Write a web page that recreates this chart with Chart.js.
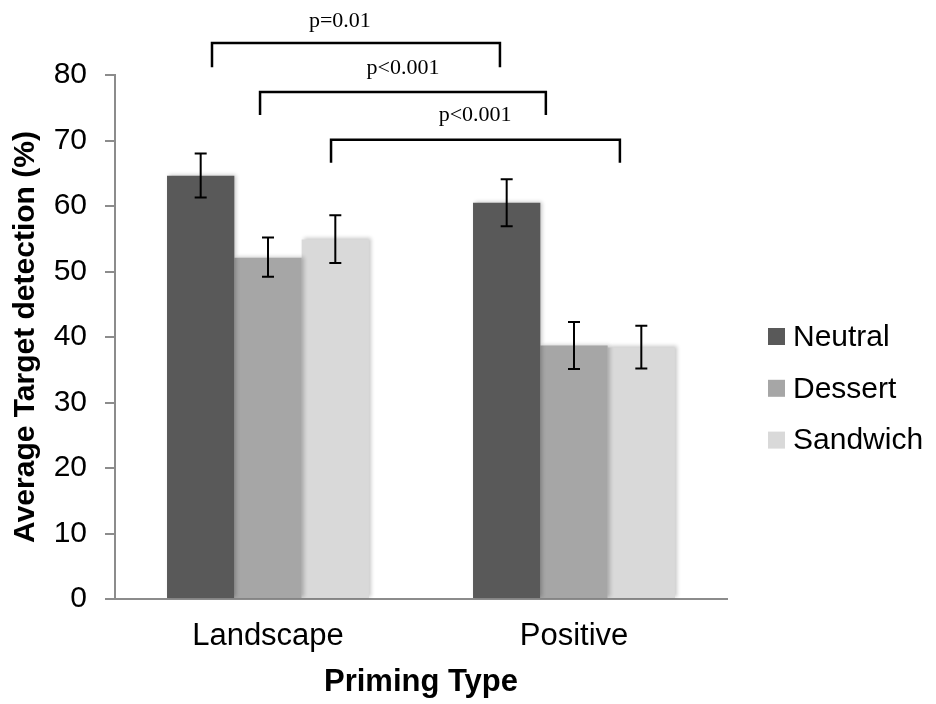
<!DOCTYPE html>
<html><head><meta charset="utf-8">
<script src="https://cdn.jsdelivr.net/npm/chart.js@4"></script>
<style>html,body{margin:0;padding:0;background:#fff}#wrap{width:936px;height:704px;position:relative}</style>
</head><body><div id="wrap"><canvas id="c"></canvas></div>
<script>
const categories = ['Landscape', 'Positive'];
const seriesNames = ['Neutral', 'Dessert', 'Sandwich'];
const neutral = [64.6, 60.5];
const dessert = [52.1, 38.7];
const sandwich = [54.9, 38.4];
const neutralErrHigh = [68.0, 64.1];
const neutralErrLow = [61.3, 56.9];
const dessertErrHigh = [55.2, 42.3];
const dessertErrLow = [49.2, 35.1];
const sandwichErrHigh = [58.6, 41.7];
const sandwichErrLow = [51.3, 35.2];
const yTicks = [0, 10, 20, 30, 40, 50, 60, 70, 80];

const bracketLabels = ['p=0.01', 'p<0.001', 'p<0.001'];
const bracketFrom = [-0.183, -0.026, 0.206];
const bracketTo = [0.758, 0.908, 1.150];
const bracketTop = [84.9, 77.4, 70.1];
const bracketFoot = [81.2, 73.9, 66.6];
const bracketLabelX = [0.235, 0.441, 0.677];
const bracketLabelY = [88.2, 81.0, 73.9];

const colors = ['#595959', '#a6a6a6', '#d9d9d9'];
const seriesValues = [neutral, dessert, sandwich];
const errHigh = [neutralErrHigh, dessertErrHigh, sandwichErrHigh];
const errLow = [neutralErrLow, dessertErrLow, sandwichErrLow];

const SANS = '"Liberation Sans", Arial, sans-serif';

const shadowPlugin = {
  id: 'shadowAndErr',
  beforeDatasetsDraw(chart) {
    const ctx = chart.ctx;
    ctx.save();
    ctx.shadowColor = 'rgba(0,0,0,0.22)';
    ctx.shadowBlur = 4;
    ctx.shadowOffsetX = 2;
    ctx.shadowOffsetY = -1;
  },
  afterDatasetsDraw(chart) {
    const ctx = chart.ctx;
    ctx.restore();
    const y = chart.scales.y;
    const x = chart.scales.x;
    ctx.save();
    ctx.strokeStyle = '#000';
    ctx.lineWidth = 2;
    chart.data.datasets.forEach((ds, di) => {
      const meta = chart.getDatasetMeta(di);
      meta.data.forEach((el, i) => {
        const px = el.x;
        const yh = y.getPixelForValue(errHigh[di][i]);
        const yl = y.getPixelForValue(errLow[di][i]);
        ctx.beginPath();
        ctx.moveTo(px, yh); ctx.lineTo(px, yl);
        ctx.moveTo(px - 6, yh); ctx.lineTo(px + 6, yh);
        ctx.moveTo(px - 6, yl); ctx.lineTo(px + 6, yl);
        ctx.stroke();
      });
    });
    // significance brackets
    ctx.lineWidth = 2.5;
    ctx.lineJoin = 'miter';
    ctx.fillStyle = '#000';
    ctx.font = '22px "Liberation Serif", "Times New Roman", serif';
    ctx.textAlign = 'center';
    ctx.textBaseline = 'middle';
    bracketLabels.forEach((lab, k) => {
      const x1 = x.getPixelForValue(bracketFrom[k]);
      const x2 = x.getPixelForValue(bracketTo[k]);
      const yt = y.getPixelForValue(bracketTop[k]);
      const yf = y.getPixelForValue(bracketFoot[k]);
      ctx.beginPath();
      ctx.moveTo(x1, yf); ctx.lineTo(x1, yt); ctx.lineTo(x2, yt); ctx.lineTo(x2, yf);
      ctx.stroke();
      ctx.fillText(lab, x.getPixelForValue(bracketLabelX[k]), y.getPixelForValue(bracketLabelY[k]));
    });
    ctx.restore();
  },
  afterDraw(chart) {
    const ctx = chart.ctx;
    ctx.save();
    ctx.font = '30px ' + SANS;
    ctx.textAlign = 'left';
    ctx.textBaseline = 'middle';
    chart.data.datasets.forEach((ds, i) => {
      const cy = 336.5 + i * 51.8;
      ctx.fillStyle = ds.backgroundColor;
      ctx.fillRect(768, cy - 8.5, 17, 17);
      ctx.fillStyle = '#000';
      ctx.fillText(ds.label, 793, cy + 1);
    });
    ctx.restore();
  }
};

new Chart(document.getElementById('c'), {
  type: 'bar',
  data: {
    labels: categories,
    datasets: seriesNames.map((n, i) => ({
      label: n,
      data: seriesValues[i],
      backgroundColor: colors[i],
      borderWidth: 0,
      categoryPercentage: 0.66,
      barPercentage: 1.0
    }))
  },
  options: {
    responsive: true,
    maintainAspectRatio: false,
    animation: false,
    layout: { padding: { left: 0, right: 209, top: 75, bottom: 0 } },
    plugins: { legend: { display: false }, tooltip: { enabled: false } },
    scales: {
      x: {
        grid: { display: false, drawTicks: false },
        border: { display: true, color: '#8c8c8c', width: 2 },
        ticks: { color: '#000', font: { family: SANS, size: 31 }, padding: 19 },
        title: { display: true, text: 'Priming Type', color: '#000',
                 font: { family: SANS, size: 31, weight: 'bold' }, padding: { top: 0, bottom: 3 } },
        afterFit(s) { s.height = 105; }
      },
      y: {
        min: 0, max: 80,
        afterBuildTicks(s) { s.ticks = yTicks.map(v => ({ value: v })); },
        grid: { drawOnChartArea: false, drawTicks: true, tickLength: 10, color: '#8c8c8c', lineWidth: 2 },
        border: { display: true, color: '#8c8c8c', width: 2 },
        ticks: { color: '#000', font: { family: SANS, size: 30 }, padding: 18 },
        title: { display: true, text: 'Average Target detection (%)', color: '#000',
                 font: { family: SANS, size: 30, weight: 'bold' }, padding: { top: 8, bottom: 0 } },
        afterFit(s) { s.width = 115; }
      }
    }
  },
  plugins: [shadowPlugin]
});
</script>
</body></html>
